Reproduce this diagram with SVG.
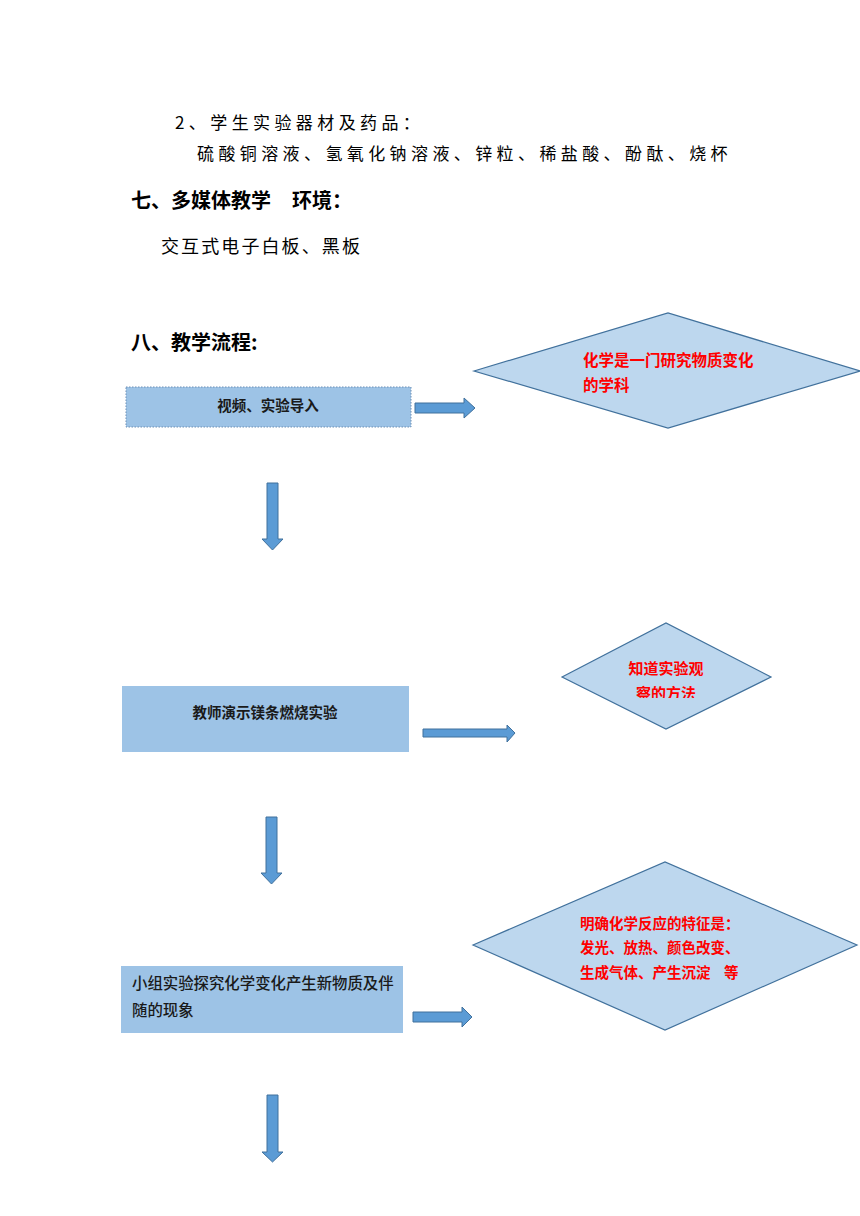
<svg xmlns="http://www.w3.org/2000/svg" width="860" height="1216" viewBox="0 0 860 1216">
<style>
.t{font-family:"Noto Sans CJK SC","Noto Sans",sans-serif;fill:#000}
.h{font-family:"Noto Sans CJK SC","Noto Sans",sans-serif;font-weight:bold;font-size:20px;fill:#000}
.b{font-family:"Noto Sans CJK SC",sans-serif;font-size:14.5px;font-weight:bold;fill:#1a1a1a}
.r{font-family:"Noto Sans CJK SC",sans-serif;font-size:14.5px;font-weight:bold;fill:#ff0000}
.box{fill:#9DC3E6}
.dia{fill:#BDD7EE;stroke:#41719C;stroke-width:1.2}
.arr{fill:#5B9BD5;stroke:#41719C;stroke-width:1}
</style>
<defs>
<clipPath id="c2"><rect x="560" y="620" width="215" height="78"/></clipPath>
</defs>
<rect width="860" height="1216" fill="#fff"/>
<g id="texts">
<text class="t" x="175" y="129" font-size="17" letter-spacing="4.4">2、学生实验器材及药品：</text>
<text class="t" x="197" y="160" font-size="17" letter-spacing="4.4">硫酸铜溶液、氢氧化钠溶液、锌粒、稀盐酸、酚酞、烧杯</text>
<text class="h" x="131" y="208">七、多媒体教学<tspan x="292">环境：</tspan></text>
<text class="t" x="161" y="253" font-size="18" letter-spacing="2.1">交互式电子白板、黑板</text>
<text class="h" x="131" y="350">八、教学流程:</text>
</g>
<g id="node1">
<rect class="box" x="126" y="387" width="285" height="40" stroke="#6D8FB5" stroke-width="1" stroke-dasharray="1.5,1.5"/>
<text class="b" x="268" y="411" text-anchor="middle">视频、实验导入</text>
</g>
<g id="diamond1">
<polygon class="dia" points="474,371 668,313 860,371 668,428"/>
<text class="r" x="583" y="366" style="font-size:15.5px">化学是一门研究物质变化</text>
<text class="r" x="583" y="391" style="font-size:15.5px">的学科</text>
</g>
<g id="node2">
<rect class="box" x="122" y="686" width="287" height="66"/>
<text class="b" x="265" y="718" text-anchor="middle">教师演示镁条燃烧实验</text>
</g>
<g id="diamond2">
<polygon class="dia" points="562,677 666,623 771,677 666,729"/>
<g clip-path="url(#c2)">
<text class="r" x="666" y="674" text-anchor="middle" style="font-size:15px">知道实验观</text>
<text class="r" x="666" y="699" text-anchor="middle" style="font-size:15px">察的方法</text>
</g>
</g>
<g id="node3">
<rect class="box" x="121" y="966" width="282" height="67"/>
<text class="b" x="132" y="989" style="font-size:15.4px;font-weight:500">小组实验探究化学变化产生新物质及伴</text>
<text class="b" x="132" y="1016" style="font-size:15.4px;font-weight:500">随的现象</text>
</g>
<g id="diamond3">
<polygon class="dia" points="473,945 665,862 857,945 665,1030"/>
<text class="r" x="580" y="929">明确化学反应的特征是：</text>
<text class="r" x="580" y="953">发光、放热、颜色改变、</text>
<text class="r" x="580" y="978">生成气体、产生沉淀<tspan x="724">等</tspan></text>
</g>
<g id="connectors">
<polygon class="arr" points="415,403 464,403 464,398 475,408 464,418 464,413 415,413"/>
<polygon class="arr" points="267,483 278,483 278,539 283,539 272.5,550 262,539 267,539"/>
<polygon class="arr" points="423,729 507,729 507,725 515,733 507,742 507,737 423,737"/>
<polygon class="arr" points="266,817 277,817 277,873 282,873 271.5,884 261,873 266,873"/>
<polygon class="arr" points="413,1012 462,1012 462,1007 472,1017 462,1027 462,1022 413,1022"/>
<polygon class="arr" points="267,1095 278,1095 278,1152 283,1152 272.5,1162 262,1152 267,1152"/>
</g>
</svg>
